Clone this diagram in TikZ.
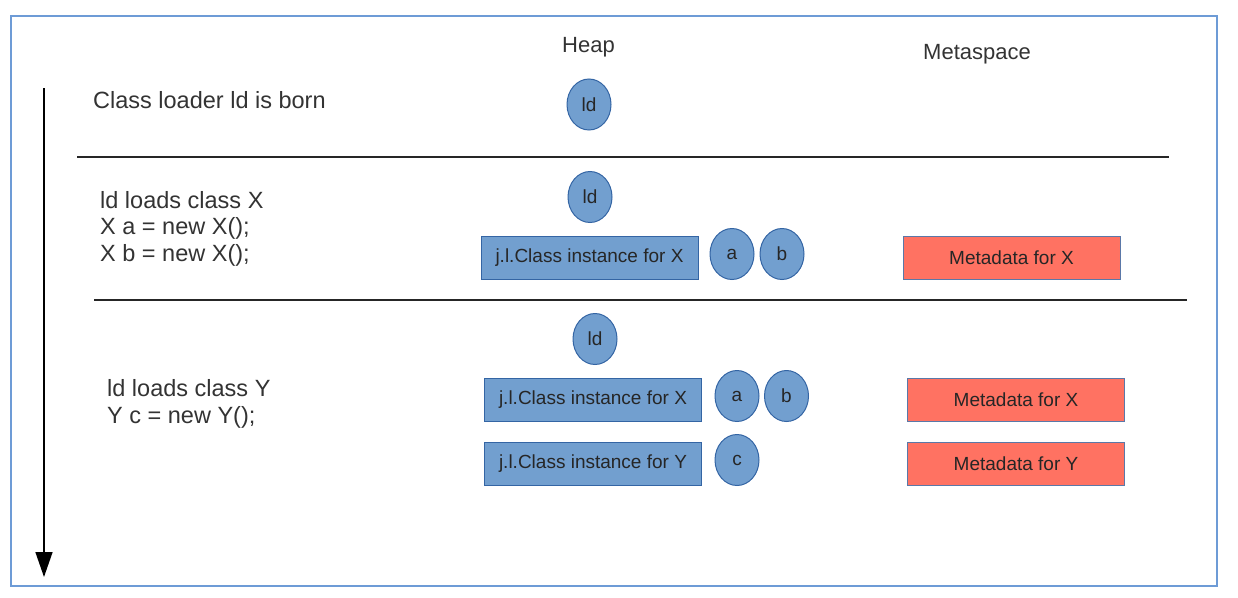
\documentclass[tikz,border=0pt]{standalone}
\usepackage{fontspec}
\setmainfont{Liberation Sans}
\usetikzlibrary{shapes.geometric,arrows.meta}
\definecolor{heapblue}{HTML}{729FCF}
\definecolor{heapedge}{HTML}{3465A4}
\definecolor{metared}{HTML}{FF7262}
\definecolor{metaedge}{HTML}{5A78A8}
\definecolor{framecol}{HTML}{6D9BD6}
\definecolor{txtgrey}{HTML}{333333}
\begin{document}
\begin{tikzpicture}[x=1pt,y=-1pt,
    objnode/.style={ellipse,draw=heapedge,fill=heapblue,line width=1pt,minimum width=44pt,minimum height=51pt,inner sep=0pt,text=black!85,font=\fontsize{19}{19}\selectfont},
    instbox/.style={rectangle,draw=heapedge,fill=heapblue,line width=1pt,minimum width=217pt,minimum height=43pt,inner sep=0pt,text=black!85,font=\fontsize{19}{19}\selectfont},
    metabox/.style={instbox,draw=metaedge,fill=metared},
    stagetext/.style={anchor=base west,align=left,inner sep=0pt,text=txtgrey,font=\fontsize{23.5}{26.5}\selectfont},
    hdr/.style={anchor=base west,inner sep=0pt,text=txtgrey,font=\fontsize{22}{22}\selectfont}]
  \useasboundingbox (0,0) rectangle (1238,597);
  \draw [framecol,line width=2pt] (11,16) rectangle (1217,586);
  % time axis
  \coordinate (tstart) at (44,88);
  \coordinate (tend) at (44,577);
  \draw [line width=1.5pt,-{Triangle[length=25pt,width=17pt]}] (tstart) -- (tend);
  \node [hdr] (heap) at (562,52) {Heap};
  \node [hdr] (metaspace) at (923,59) {Metaspace};
  % stage 1
  \node [stagetext] (born) at (93,108) {Class loader ld is born};
  \node [objnode] (ldA) at (589,104.5) {ld};
  \draw [line width=1.5pt,black!85] (77,157) -- (1169,157);
  % stage 2 (base = last line)
  \node [stagetext] (loadX) at (100,261) {ld loads class X\\X a = new X();\\X b = new X();};
  \node [objnode] (ldB) at (590,197) {ld};
  \node [instbox] (clsXB) at (589.5,257.5) {j.l.Class instance for X};
  \node [objnode] (aB) at (732,254) {a};
  \node [objnode] (bB) at (782,254) {b};
  \node [metabox] (metaXB) at (1011.5,258) {Metadata for X};
  \draw [line width=1.5pt,black!85] (94,300) -- (1187,300);
  % stage 3
  \node [stagetext] (loadY) at (107,423) {ld loads class Y\\Y c = new Y();};
  \node [objnode] (ldC) at (595,339) {ld};
  \node [instbox] (clsXC) at (593,400) {j.l.Class instance for X};
  \node [objnode] (aC) at (737,396) {a};
  \node [objnode] (bC) at (786.5,396) {b};
  \node [instbox] (clsYC) at (593,463.5) {j.l.Class instance for Y};
  \node [objnode] (cC) at (737,460) {c};
  \node [metabox] (metaXC) at (1016,399.5) {Metadata for X};
  \node [metabox] (metaYC) at (1016,463.5) {Metadata for Y};
\end{tikzpicture}
\end{document}
